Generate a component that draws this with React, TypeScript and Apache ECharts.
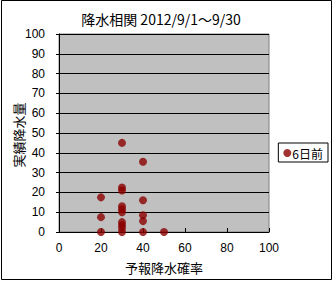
import React, { useEffect, useRef } from "react";
import * as echarts from "echarts";

const titleText = "降水相関 2012/9/1～9/30";
const xName = "予報降水確率";
const yName = "実績降水量";
const seriesName = "6日前";
// [forecast probability %, actual precipitation mm]
const forecastProb = [20, 20, 20, 30, 30, 30, 30, 30, 30, 30, 30, 30, 30, 40, 40, 40, 40, 40, 50];
const actualRain = [17.5, 7.5, 0, 45, 22.5, 21, 13, 11.5, 10, 5, 3.5, 2, 0, 35.5, 16, 8.5, 5.5, 0, 0];

const FONT = "'Noto Sans CJK JP', 'DejaVu Sans', sans-serif";
const NUMFONT = "'Liberation Sans', Arial, sans-serif";

export default function App() {
  const ref = useRef<HTMLDivElement>(null);
  useEffect(() => {
    if (!ref.current) return;
    const chart = echarts.init(ref.current, undefined, { renderer: "svg" });
    const data = forecastProb.map((x, i) => [x, actualRain[i]]);
    chart.setOption({
      animation: false,
      backgroundColor: "#ffffff",
      title: {
        text: titleText,
        left: 156,
        textAlign: "center",
        top: 7,
        textStyle: { fontFamily: FONT, fontSize: 14, fontWeight: "normal", color: "#000" },
      },
      grid: {
        left: 59,
        right: 64,
        top: 34,
        bottom: 50,
        show: true,
        containLabel: false,
        outerBoundsMode: "none",
        backgroundColor: "#c0c0c0",
        borderColor: "#808080",
        borderWidth: 1,
      },
      legend: {
        data: [{ name: seriesName, icon: "circle" }],
        right: 5,
        top: 143,
        orient: "vertical",
        backgroundColor: "#fff",
        borderColor: "#000",
        borderWidth: 1,
        padding: [4, 5, 3, 5],
        itemWidth: 8,
        itemHeight: 8,
        itemGap: 2,
        textStyle: { fontFamily: FONT, fontSize: 12, color: "#000", padding: [0, 0, 0, -4] },
      },
      xAxis: {
        type: "value",
        min: 0,
        max: 100,
        interval: 20,
        name: xName,
        nameLocation: "middle",
        nameGap: 29,
        nameTextStyle: { fontFamily: FONT, fontSize: 13, color: "#000" },
        axisLine: { show: true, lineStyle: { color: "#000", width: 1 } },
        axisTick: { show: true, inside: true, length: 4, lineStyle: { color: "#000" } },
        axisLabel: { fontFamily: NUMFONT, fontSize: 12, color: "#000", margin: 10 },
        splitLine: { show: false },
      },
      yAxis: {
        type: "value",
        min: 0,
        max: 100,
        interval: 10,
        axisLine: { show: true, lineStyle: { color: "#000", width: 1 } },
        axisTick: { show: true, inside: false, length: 3, lineStyle: { color: "#000" } },
        axisLabel: { fontFamily: NUMFONT, fontSize: 12, color: "#000", margin: 14 },
        splitLine: { show: true, lineStyle: { color: "#000", width: 1 } },
      },
      series: [
        {
          name: seriesName,
          type: "scatter",
          data,
          symbol: "circle",
          symbolSize: 8,
          itemStyle: { color: "#8b0000" },
        },
      ],
      graphic: [
        {
          type: "text",
          x: 18,
          y: 135,
          rotation: Math.PI / 2,
          style: {
            text: yName,
            fontFamily: FONT,
            fontSize: 13,
            fill: "#000",
            textAlign: "center",
            textVerticalAlign: "middle",
          },
        },
        {
          type: "rect",
          shape: { x: 1.5, y: 0.5, width: 330, height: 279 },
          style: { fill: "none", stroke: "#000", lineWidth: 1 },
          z: 100,
        },
      ],
    });
    return () => chart.dispose();
  }, []);
  return (
    <div
      ref={ref}
      style={{ position: "fixed", left: 0, top: 0, width: 333, height: 282 }}
    />
  );
}
